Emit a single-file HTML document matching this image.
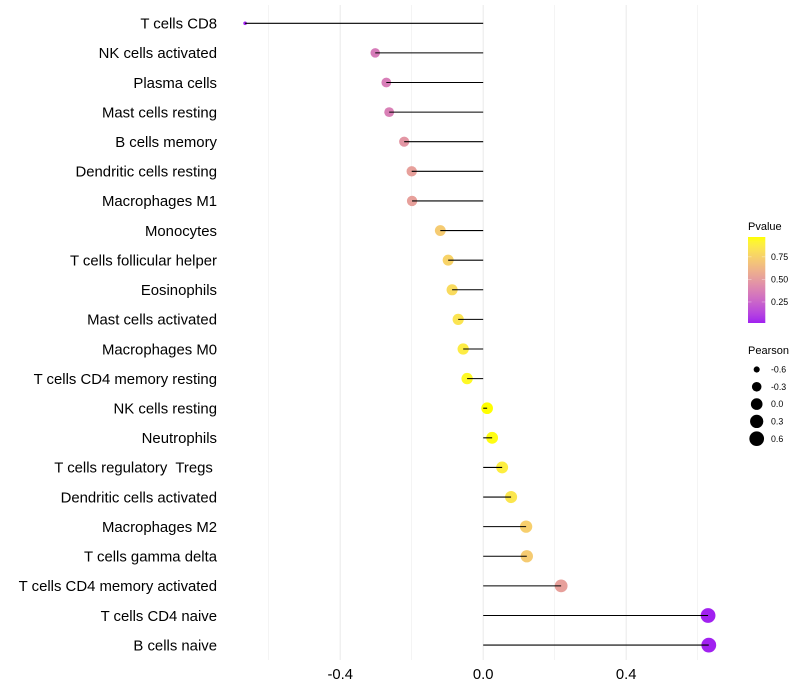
<!DOCTYPE html>
<html>
<head>
<meta charset="utf-8">
<title>Lollipop chart</title>
<style>
html,body{margin:0;padding:0;background:#fff;}
svg{display:block;font-family:"Liberation Sans",Arial,sans-serif;}
</style>
</head>
<body>
<svg id="chart" xmlns="http://www.w3.org/2000/svg" width="800" height="700" viewBox="0 0 800 700"></svg>
<script>
const categories = ["T cells CD8","NK cells activated","Plasma cells","Mast cells resting","B cells memory","Dendritic cells resting","Macrophages M1","Monocytes","T cells follicular helper","Eosinophils","Mast cells activated","Macrophages M0","T cells CD4 memory resting","NK cells resting","Neutrophils","T cells regulatory  Tregs ","Dendritic cells activated","Macrophages M2","T cells gamma delta","T cells CD4 memory activated","T cells CD4 naive","B cells naive"];
const pearson = [-0.666,-0.302,-0.271,-0.263,-0.221,-0.2,-0.199,-0.12,-0.098,-0.087,-0.07,-0.056,-0.045,0.011,0.025,0.053,0.078,0.12,0.122,0.218,0.629,0.631];
const pvalue = [0.02,0.35,0.36,0.37,0.47,0.52,0.52,0.72,0.76,0.8,0.84,0.88,0.94,0.97,0.96,0.89,0.85,0.74,0.72,0.52,0.02,0.02];
const xMajorTicks = [-0.4,0,0.4];
const xMinorTicks = [-0.6,-0.2,0.2,0.6];
const pvalueTicks = [0.25,0.5,0.75];
const pearsonLegend = [-0.6,-0.3,0,0.3,0.6];

const NS = "http://www.w3.org/2000/svg";
const svg = document.getElementById("chart");
function mk(tag, attrs, parent, txt){
  const e = document.createElementNS(NS, tag);
  for(const k in attrs) e.setAttribute(k, attrs[k]);
  if(txt !== undefined) e.textContent = txt;
  (parent || svg).appendChild(e);
  return e;
}
const xPos = v => 483.2 + v * 357.5;
const yPos = i => 23.28 + i * 29.61;
const pMin = 0.017, pMax = 0.97;
const sizeMin = Math.min(...pearson), sizeMax = Math.max(...pearson);
const diam = v => 3.6 + 11.2 * Math.sqrt(Math.max(0, (v - sizeMin) / (sizeMax - sizeMin)));

function toLab(r,g,b){
  const f = c => { c/=255; return c<=0.04045 ? c/12.92 : Math.pow((c+0.055)/1.055,2.4); };
  const R=f(r),G=f(g),B=f(b);
  const X=(0.4124*R+0.3576*G+0.1805*B)/0.95047,Y=0.2126*R+0.7152*G+0.0722*B,Z=(0.0193*R+0.1192*G+0.9505*B)/1.08883;
  const h = t => t>0.008856 ? Math.cbrt(t) : 7.787*t+16/116;
  return [116*h(Y)-16,500*(h(X)-h(Y)),200*(h(Y)-h(Z))];
}
function fromLab(L,a,b){
  const fy=(L+16)/116,fx=fy+a/500,fz=fy-b/200;
  const h = t => t*t*t>0.008856 ? t*t*t : (t-16/116)/7.787;
  const X=h(fx)*0.95047,Y=h(fy),Z=h(fz)*1.08883;
  const g = c => { c=Math.max(0,Math.min(1,c)); return Math.round(255*(c<=0.0031308?12.92*c:1.055*Math.pow(c,1/2.4)-0.055)); };
  return "rgb("+g(3.2406*X-1.5372*Y-0.4986*Z)+","+g(-0.9689*X+1.8758*Y+0.0415*Z)+","+g(0.0557*X-0.2040*Y+1.0570*Z)+")";
}
const labLow = toLab(160,32,240), labHigh = toLab(255,255,0);
function color(p){
  const t = Math.max(0,Math.min(1,(p-pMin)/(pMax-pMin)));
  return fromLab(labLow[0]+(labHigh[0]-labLow[0])*t,labLow[1]+(labHigh[1]-labLow[1])*t,labLow[2]+(labHigh[2]-labLow[2])*t);
}

const panelTop = 5, panelBottom = 660;
xMinorTicks.forEach(v => {
  const g = mk("line",{x1:xPos(v),x2:xPos(v),y1:panelTop,y2:panelBottom,stroke:"#ebebeb","stroke-width":0.55});
  
  
});
xMajorTicks.forEach(v => {
  const g = mk("line",{x1:xPos(v),x2:xPos(v),y1:panelTop,y2:panelBottom,stroke:"#ebebeb","stroke-width":1.07});
  
  
  const t = mk("text",{x:xPos(v),y:679,"text-anchor":"middle","font-size":14.8,fill:"#000"},svg,v.toFixed(1));
  
  
});

categories.forEach((c,i) => {
  const y = yPos(i);
  const lab = mk("text",{x:217,y:y+5.3,"text-anchor":"end","font-size":14.9,fill:"#000","xml:space":"preserve"},svg,c);
  lab.style.whiteSpace = "pre";
  
  
  const pt = mk("circle",{cx:xPos(pearson[i]),cy:y,r:diam(pearson[i])/2,fill:color(pvalue[i])});
  
  
  const seg = mk("line",{x1:xPos(0),x2:xPos(pearson[i]),y1:y,y2:y,stroke:"#000","stroke-width":1.07});
  
  
});

/* Pvalue legend */
const pTitle = mk("text",{x:748,y:230,"font-size":11,fill:"#000"},svg,"Pvalue");


const barTop = 237, barBottom = 323, barLeft = 748, barW = 17.3;
const defs = mk("defs",{});
const grad = mk("linearGradient",{id:"pgrad",x1:0,y1:1,x2:0,y2:0},defs);
for(let i=0;i<=20;i++){
  mk("stop",{offset:(i/20),"stop-color":color(pMin+(pMax-pMin)*i/20)},grad);
}
const bar = mk("rect",{x:barLeft,y:barTop,width:barW,height:barBottom-barTop,fill:"url(#pgrad)"});


const pbY = p => barBottom - (p-pMin)/(pMax-pMin)*(barBottom-barTop);
pvalueTicks.forEach(p => {
  const y = pbY(p);
  const t1 = mk("line",{x1:barLeft,x2:barLeft+3.5,y1:y,y2:y,stroke:"#fff","stroke-width":0.55,"stroke-opacity":0.6});
  
  
  const t2 = mk("line",{x1:barLeft+barW-3.5,x2:barLeft+barW,y1:y,y2:y,stroke:"#fff","stroke-width":0.55,"stroke-opacity":0.6});
  
  
  const l = mk("text",{x:771,y:y+3.1,"font-size":8.8,fill:"#000"},svg,p.toFixed(2));
  
  
});

/* Pearson legend */
const sTitle = mk("text",{x:748,y:354,"font-size":11,fill:"#000"},svg,"Pearson");


pearsonLegend.forEach((v,i) => {
  const y = 369.5 + i*17.3;
  const c = mk("circle",{cx:756.7,cy:y,r:diam(v)/2,fill:"#000"});
  
  
  const l = mk("text",{x:771,y:y+3.1,"font-size":8.8,fill:"#000"},svg,v.toFixed(1));
  
  
});
</script>
</body>
</html>
